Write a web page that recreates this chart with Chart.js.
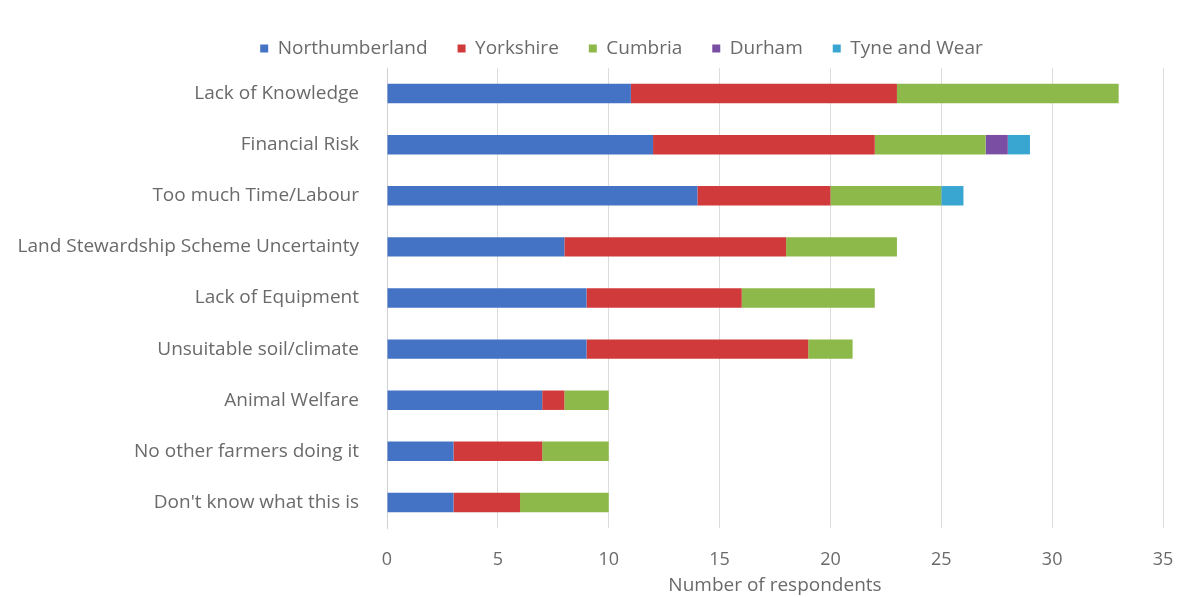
<!DOCTYPE html>
<html><head><meta charset="utf-8">
<script src="https://cdn.jsdelivr.net/npm/chart.js@4"></script>
<style>html,body{margin:0;padding:0;background:#fff}#wrap{width:1181px;height:597px;position:relative}</style>
</head><body><div id="wrap"><canvas id="c"></canvas></div>
<script>
const categories = ["Lack of Knowledge","Financial Risk","Too much Time/Labour","Land Stewardship Scheme Uncertainty","Lack of Equipment","Unsuitable soil/climate","Animal Welfare","No other farmers doing it","Don't know what this is"];
const northumberland = [11,12,14,8,9,9,7,3,3];
const yorkshire = [12,10,6,10,7,10,1,4,3];
const cumbria = [10,5,5,5,6,2,2,3,4];
const durham = [0,1,0,0,0,0,0,0,0];
const tyneAndWear = [0,1,1,0,0,0,0,0,0];
const xTicks = [0,5,10,15,20,25,30,35];
const xTitle = "Number of respondents";

const font = "'Open Sans', sans-serif";
const txt = '#6a6a6a';
const mk = (label, data, color) => ({label, data, backgroundColor: color, borderWidth: 0, barPercentage: 0.38, categoryPercentage: 1});
const legendShift = {
  id: 'legendShift',
  afterLayout(chart) { if (chart.legend) { chart.legend.left += 36; chart.legend.right += 36; } }
};
new Chart(document.getElementById('c'), {
  type: 'bar',
  plugins: [legendShift],
  data: { labels: categories, datasets: [
    mk('Northumberland', northumberland, '#4472C4'),
    mk('Yorkshire', yorkshire, '#D03A3A'),
    mk('Cumbria', cumbria, '#8DB94A'),
    mk('Durham', durham, '#7A4FA3'),
    mk('Tyne and Wear', tyneAndWear, '#39A6D2')
  ]},
  options: {
    indexAxis: 'y', responsive: true, maintainAspectRatio: false, animation: false,
    layout: { padding: { left: 8, right: 18, top: 9, bottom: 0 } },
    plugins: {
      legend: { position: 'top', labels: { boxWidth: 8, boxHeight: 8, color: txt, font: { family: font, size: 19 }, padding: 30 } },
      tooltip: { enabled: false }
    },
    scales: {
      x: { stacked: true, min: 0, max: 35, afterBuildTicks: s => { s.ticks = xTicks.map(v => ({value: v})); },
        afterFit: s => { s.paddingLeft = 0; s.paddingRight = 0; s.height = 69; },
        grid: { color: '#dcdcdc', drawTicks: false }, border: { display: false },
        ticks: { color: txt, font: { family: font, size: 18 }, padding: 21 },
        title: { display: true, text: xTitle, color: txt, font: { family: font, size: 19 }, padding: { top: 0, bottom: 0 } } },
      y: { stacked: true, grid: { display: false }, border: { color: '#d0d0d0' },
        ticks: { color: txt, font: { family: font, size: 19 }, padding: 20 },
        afterFit: s => { s.width = 379; s.paddingTop = 0; s.paddingBottom = 0; } }
    }
  }
});
</script></body></html>
